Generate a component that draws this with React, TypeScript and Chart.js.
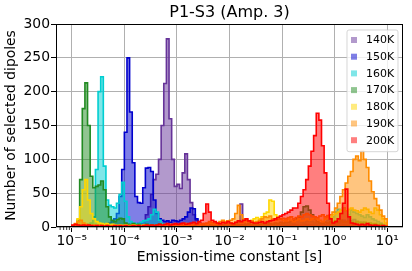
import React, { useEffect, useRef } from 'react';
import { Chart, registerables } from 'chart.js';

Chart.register(...registerables);

// Histogram bins: log10(tau) from -5 to 1, 0.05 decade per bin (120 bins)
const LOG_START = -5;
const BIN_WIDTH = 0.05;
const X_MIN = -5.3;
const X_MAX = 1.3;

const temperatures = ['140K', '150K', '160K', '170K', '180K', '190K', '200K'];

const counts140K = [
  0, 0, 1, 0, 0, 1, 0, 0, 1, 0,
  0, 1, 0, 0, 1, 0, 1, 2, 1, 2,
  1, 2, 3, 4, 3, 5, 6, 8, 18, 30,
  48, 70, 78, 100, 150, 212, 278, 160, 100, 60,
  63, 57, 80, 108, 70, 36, 18, 10, 6, 4,
  3, 2, 4, 3, 2, 3, 2, 1, 2, 3,
  2, 3, 4, 8, 34, 10, 3, 2, 1, 2,
  1, 2, 1, 2, 3, 2, 1, 2, 1, 2,
  2, 1, 3, 2, 4, 3, 2, 3, 4, 2,
  3, 2, 1, 2, 3, 2, 1, 1, 2, 1,
  2, 1, 2, 3, 2, 1, 2, 1, 2, 1,
  1, 2, 1, 1, 2, 1, 1, 0, 1, 0,
];

const counts150K = [
  0, 0, 0, 1, 0, 1, 0, 1, 2, 1,
  2, 3, 2, 4, 6, 8, 12, 20, 45, 85,
  140, 250, 170, 95, 45, 36, 35, 58, 87, 88,
  82, 40, 20, 12, 10, 8, 9, 7, 10, 9,
  8, 10, 12, 15, 22, 28, 27, 12, 6, 4,
  3, 4, 2, 3, 2, 1, 2, 3, 2, 1,
  2, 1, 2, 1, 3, 2, 1, 2, 1, 1,
  2, 1, 1, 2, 1, 2, 1, 1, 2, 1,
  1, 2, 1, 2, 3, 2, 1, 2, 2, 3,
  2, 3, 2, 3, 4, 2, 3, 2, 3, 4,
  5, 6, 8, 10, 7, 12, 9, 11, 8, 6,
  7, 5, 4, 3, 4, 2, 3, 2, 1, 1,
];

const counts160K = [
  0, 1, 2, 1, 2, 3, 4, 6, 15, 85,
  200, 222, 90, 40, 32, 30, 28, 35, 48, 66,
  38, 15, 8, 6, 5, 5, 7, 9, 10, 12,
  18, 26, 22, 10, 5, 4, 3, 2, 3, 2,
  2, 3, 2, 1, 2, 3, 2, 1, 2, 1,
  1, 2, 1, 2, 1, 2, 1, 1, 2, 1,
  1, 2, 3, 2, 1, 2, 1, 2, 1, 2,
  2, 1, 2, 3, 2, 3, 2, 3, 4, 3,
  4, 5, 4, 6, 8, 10, 12, 8, 6, 9,
  10, 8, 6, 5, 4, 6, 8, 10, 12, 15,
  22, 26, 20, 28, 24, 18, 25, 22, 20, 18,
  16, 14, 18, 15, 12, 10, 8, 6, 4, 2,
];

const counts170K = [
  0, 2, 10, 70, 175, 213, 150, 75, 58, 60,
  62, 68, 55, 30, 15, 10, 8, 11, 13, 12,
  6, 4, 3, 5, 3, 4, 2, 3, 4, 2,
  3, 2, 3, 4, 2, 3, 2, 1, 2, 3,
  2, 3, 4, 3, 2, 3, 2, 1, 2, 3,
  2, 3, 4, 2, 3, 2, 1, 2, 3, 2,
  3, 2, 4, 3, 2, 3, 4, 5, 3, 4,
  3, 4, 5, 4, 6, 5, 4, 6, 5, 7,
  6, 8, 7, 9, 10, 12, 15, 22, 30, 31,
  25, 18, 12, 8, 6, 5, 7, 6, 8, 7,
  9, 8, 10, 7, 8, 9, 7, 6, 8, 7,
  6, 7, 5, 6, 4, 5, 3, 4, 2, 1,
];

const counts180K = [
  1, 3, 12, 30, 55, 70, 40, 20, 12, 8,
  6, 5, 4, 5, 3, 4, 3, 2, 3, 2,
  3, 2, 2, 3, 2, 1, 2, 3, 2, 1,
  2, 1, 2, 1, 2, 3, 2, 1, 2, 2,
  3, 2, 4, 3, 2, 3, 4, 5, 3, 4,
  5, 4, 6, 5, 4, 6, 5, 7, 6, 5,
  6, 5, 7, 8, 6, 7, 9, 8, 10, 12,
  14, 12, 15, 20, 22, 40, 38, 18, 15, 12,
  10, 9, 12, 10, 8, 10, 12, 9, 10, 12,
  10, 12, 14, 12, 10, 8, 12, 15, 14, 18,
  20, 22, 25, 28, 24, 26, 28, 25, 24, 22,
  25, 28, 26, 22, 20, 28, 25, 18, 12, 6,
];

const counts190K = [
  2, 5, 8, 10, 6, 4, 3, 2, 3, 2,
  3, 2, 1, 2, 1, 2, 1, 2, 1, 1,
  2, 1, 2, 1, 1, 2, 1, 2, 1, 2,
  1, 2, 1, 2, 3, 2, 3, 4, 2, 3,
  3, 4, 3, 5, 4, 3, 4, 5, 6, 4,
  5, 6, 8, 7, 6, 5, 8, 10, 8, 9,
  10, 12, 20, 32, 18, 12, 10, 8, 9, 7,
  8, 10, 12, 15, 14, 16, 12, 10, 11, 12,
  13, 12, 14, 15, 12, 14, 16, 15, 18, 20,
  18, 16, 15, 14, 16, 18, 15, 17, 18, 22,
  28, 35, 45, 55, 65, 75, 82, 100, 105, 98,
  112, 100, 88, 68, 52, 42, 32, 25, 16, 12,
];

const counts200K = [
  3, 4, 3, 2, 3, 2, 3, 2, 1, 2,
  1, 2, 1, 2, 1, 1, 2, 1, 2, 1,
  2, 1, 1, 2, 1, 2, 1, 2, 3, 2,
  3, 2, 3, 4, 3, 4, 5, 3, 4, 5,
  4, 5, 6, 4, 5, 6, 7, 5, 8, 10,
  20, 34, 22, 10, 8, 6, 5, 7, 6, 8,
  6, 5, 7, 9, 8, 10, 12, 9, 7, 6,
  6, 7, 8, 6, 8, 9, 10, 12, 14, 16,
  18, 20, 22, 25, 28, 28, 35, 45, 55, 70,
  90, 112, 135, 168, 158, 120, 80, 35, 12, 6,
  8, 12, 20, 35, 56, 15, 6, 5, 4, 3,
  4, 3, 5, 3, 2, 3, 2, 1, 2, 1,
];

const seriesCounts = [counts140K, counts150K, counts160K, counts170K, counts180K, counts190K, counts200K];

const edgeColors = ['#663399', '#0000cd', '#00ced1', '#228b22', '#ffd700', '#ff8c00', '#ff0000'];
const fillColors = [
  'rgba(102,51,153,0.5)',
  'rgba(0,0,205,0.5)',
  'rgba(0,206,209,0.5)',
  'rgba(34,139,34,0.5)',
  'rgba(255,215,0,0.5)',
  'rgba(255,140,0,0.5)',
  'rgba(255,0,0,0.5)',
];

const xTickExponents = [-5, -4, -3, -2, -1, 0, 1];
const yTickStep = 50;
const Y_MAX = 300;

const TITLE = 'P1-S3 (Amp. 3)';
const X_LABEL = 'Emission-time constant [s]';
const Y_LABEL = 'Number of selected dipoles';

const FONT = 'DejaVu Sans';

const SUP: Record<string, string> = {
  '-': '\u207B', '0': '\u2070', '1': '\u00B9', '2': '\u00B2', '3': '\u00B3',
  '4': '\u2074', '5': '\u2075', '6': '\u2076', '7': '\u2077', '8': '\u2078', '9': '\u2079',
};
const sup = (n: number) => String(n).split('').map((c) => SUP[c] || c).join('');

// Points at bin left edges; with 'before' stepping each count is held until the next edge.
function toStepPoints(counts: number[]) {
  const pts: { x: number; y: number }[] = [{ x: LOG_START, y: 0 }];
  counts.forEach((c, i) => pts.push({ x: LOG_START + i * BIN_WIDTH, y: c }));
  pts.push({ x: LOG_START + counts.length * BIN_WIDTH, y: 0 });
  return pts;
}

const decorPlugin = {
  id: 'decor',
  afterDatasetsDraw(chart: any) {
    const { ctx, chartArea } = chart;
    const { left, right, top, bottom } = chartArea;
    const xs = chart.scales.x;
    ctx.save();
    // minor ticks (log scale)
    ctx.strokeStyle = '#000';
    ctx.lineWidth = 0.8;
    for (let n = -6; n <= 1; n++) {
      for (let k = 2; k <= 9; k++) {
        const v = n + Math.log10(k);
        if (v < xs.min || v > xs.max) continue;
        const px = xs.getPixelForValue(v);
        ctx.beginPath();
        ctx.moveTo(px, bottom);
        ctx.lineTo(px, bottom + 3);
        ctx.stroke();
      }
    }
    // frame
    ctx.lineWidth = 1;
    ctx.strokeStyle = '#000';
    ctx.strokeRect(left + 0.5, top + 0.5, right - left - 1, bottom - top - 1);
    // title
    ctx.fillStyle = '#000';
    ctx.font = `16px "${FONT}"`;
    ctx.textAlign = 'center';
    ctx.textBaseline = 'alphabetic';
    ctx.fillText(TITLE, (left + right) / 2, top - 7);
    // legend
    const rowH = 16.7;
    const boxRight = right - 5.5;
    const boxTop = top + 5.5;
    const boxLeft = boxRight - 51;
    const boxH = 10.5 + rowH * (temperatures.length - 1) + 11;
    ctx.beginPath();
    (ctx as any).roundRect(boxLeft + 0.5, boxTop + 0.5, boxRight - boxLeft, boxH, 2);
    ctx.fillStyle = 'rgba(255,255,255,0.8)';
    ctx.fill();
    ctx.strokeStyle = 'rgba(204,204,204,0.8)';
    ctx.lineWidth = 1;
    ctx.stroke();
    ctx.font = `11px "${FONT}"`;
    ctx.textAlign = 'left';
    ctx.textBaseline = 'middle';
    temperatures.forEach((t, i) => {
      const cy = boxTop + 10.5 + i * rowH;
      ctx.fillStyle = fillColors[i];
      ctx.fillRect(boxLeft + 4.5, cy - 3, 6, 6);
      ctx.fillStyle = '#000';
      ctx.fillText(t, boxLeft + 19.5, cy + 0.5);
    });
    ctx.restore();
  },
};

export default function App() {
  const canvasRef = useRef<HTMLCanvasElement | null>(null);

  useEffect(() => {
    if (!canvasRef.current) return;
    Chart.defaults.font.family = FONT;
    Chart.defaults.color = '#000';

    const datasets = seriesCounts.map((counts, i) => ({
      label: temperatures[i],
      data: toStepPoints(counts),
      stepped: 'before' as const,
      borderColor: edgeColors[i],
      backgroundColor: fillColors[i],
      fill: 'origin',
      borderWidth: 1.6,
      borderJoinStyle: 'miter' as const,
      pointRadius: 0,
      pointHoverRadius: 0,
      order: seriesCounts.length - 1 - i,
    }));

    const chart = new Chart(canvasRef.current, {
      type: 'line',
      data: { datasets },
      options: {
        animation: false,
        responsive: false,
        devicePixelRatio: 1,
        layout: { padding: { top: 24, right: 9, bottom: 0, left: 0 } },
        plugins: {
          legend: { display: false },
          tooltip: { enabled: false },
          title: { display: false },
        },
        scales: {
          x: {
            type: 'linear',
            min: X_MIN,
            max: X_MAX,
            afterBuildTicks: (s: any) => {
              s.ticks = xTickExponents.map((v) => ({ value: v }));
            },
            afterFit: (s: any) => {
              s.height = 44;
            },
            ticks: {
              callback: (v: any) => '10' + sup(Number(v)),
              font: { size: 13.9, family: FONT },
              color: '#000',
              padding: 1,
              maxRotation: 0,
              autoSkip: false,
            },
            grid: { color: '#b0b0b0', lineWidth: 1, tickLength: 5, tickColor: '#000', tickWidth: 1 },
            border: { display: false },
            title: {
              display: true,
              text: X_LABEL,
              font: { size: 13.9, family: FONT },
              color: '#000',
              padding: { top: 0, bottom: 5 },
            },
          },
          y: {
            type: 'linear',
            min: 0,
            max: Y_MAX,
            afterFit: (s: any) => {
              s.width = 56;
            },
            ticks: {
              stepSize: yTickStep,
              font: { size: 13.9, family: FONT },
              color: '#000',
              padding: 1,
            },
            grid: { color: '#b0b0b0', lineWidth: 1, tickLength: 5, tickColor: '#000', tickWidth: 1 },
            border: { display: false },
            title: {
              display: true,
              text: Y_LABEL,
              font: { size: 13.9, family: FONT },
              color: '#000',
              padding: { top: 3, bottom: 0 },
            },
          },
        },
      },
      plugins: [decorPlugin],
    } as any);

    return () => chart.destroy();
  }, []);

  return (
    <div style={{ position: 'fixed', left: 0, top: 0, width: 412, height: 271, background: '#fff' }}>
      <canvas ref={canvasRef} width={412} height={271} style={{ display: 'block' }} />
    </div>
  );
}
